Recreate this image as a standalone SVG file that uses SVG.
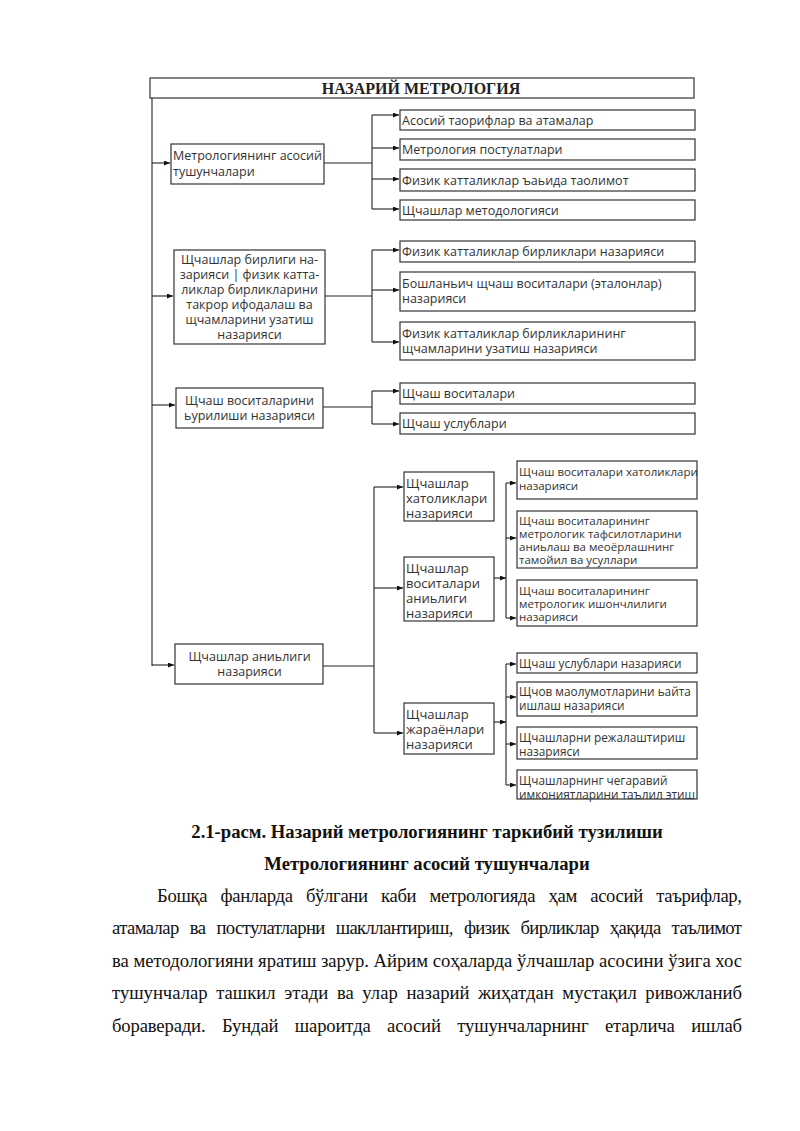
<svg xmlns="http://www.w3.org/2000/svg" width="800" height="1131" viewBox="0 0 800 1131">
<style>
.bx{fill:#fff;stroke:#333;stroke-width:1.2}
.cn{fill:none;stroke:#222;stroke-width:1.1}
.t{font-family:"Open Sans","DejaVu Sans",sans-serif;font-size:12.5px;fill:#333}
.tm{font-family:"Open Sans","DejaVu Sans",sans-serif;font-size:13px;fill:#333}
.ts{font-family:"Open Sans","DejaVu Sans",sans-serif;font-size:11.5px;fill:#333}
.t12{font-family:"Open Sans","DejaVu Sans",sans-serif;font-size:11.8px;fill:#333}
.c{text-anchor:middle}
.ttl{font-family:"Liberation Serif","Times New Roman",serif;font-weight:bold;font-size:16px;fill:#222}
.cap{font-family:"Liberation Serif","Times New Roman",serif;font-weight:bold;font-size:18.67px;fill:#111;text-anchor:middle}
.p{font-family:"Liberation Serif","Times New Roman",serif;font-size:18.67px;fill:#111}
</style>
<defs>
<marker id="ar" markerUnits="userSpaceOnUse" markerWidth="7" markerHeight="6" refX="6" refY="2.5" orient="auto">
<path d="M0,0 L6,2.5 L0,5 z" fill="#111"/>
</marker>
</defs>
<rect width="800" height="1131" fill="#fff"/>

<g id="title">
<rect class="bx" x="150" y="78" width="544" height="20"/>
<text class="ttl c" x="421" y="93.5">НАЗАРИЙ МЕТРОЛОГИЯ</text>
</g>

<g id="connectors">
<path class="cn" d="M152,98 V666"/>
<path class="cn" d="M152,163 H170" marker-end="url(#ar)"/>
<path class="cn" d="M152,296 H173" marker-end="url(#ar)"/>
<path class="cn" d="M152,405 H175" marker-end="url(#ar)"/>
<path class="cn" d="M152,665 H174" marker-end="url(#ar)"/>

<path class="cn" d="M324,163 H372 M372,115 V209"/>
<path class="cn" d="M372,115 H399" marker-end="url(#ar)"/>
<path class="cn" d="M372,148 H399" marker-end="url(#ar)"/>
<path class="cn" d="M372,179 H399" marker-end="url(#ar)"/>
<path class="cn" d="M372,209 H399" marker-end="url(#ar)"/>

<path class="cn" d="M325,296 H372 M372,250 V342"/>
<path class="cn" d="M372,250 H399" marker-end="url(#ar)"/>
<path class="cn" d="M372,290 H399" marker-end="url(#ar)"/>
<path class="cn" d="M372,342 H399" marker-end="url(#ar)"/>

<path class="cn" d="M323,407 H372 M372,391 V424"/>
<path class="cn" d="M372,391 H399" marker-end="url(#ar)"/>
<path class="cn" d="M372,424 H399" marker-end="url(#ar)"/>

<path class="cn" d="M323,666 H374 M374,487 V733"/>
<path class="cn" d="M374,487 H403" marker-end="url(#ar)"/>
<path class="cn" d="M374,588 H403" marker-end="url(#ar)"/>
<path class="cn" d="M374,733 H403" marker-end="url(#ar)"/>

<path class="cn" d="M494,578 H506" marker-end="url(#ar)"/>
<path class="cn" d="M506,483 V618"/>
<path class="cn" d="M506,483 H516" marker-end="url(#ar)"/>
<path class="cn" d="M506,538 H516" marker-end="url(#ar)"/>
<path class="cn" d="M506,618 H516" marker-end="url(#ar)"/>

<path class="cn" d="M494,722 H506" marker-end="url(#ar)"/>
<path class="cn" d="M506,664 V785"/>
<path class="cn" d="M506,664 H516" marker-end="url(#ar)"/>
<path class="cn" d="M506,697 H516" marker-end="url(#ar)"/>
<path class="cn" d="M506,744 H516" marker-end="url(#ar)"/>
<path class="cn" d="M506,785 H516" marker-end="url(#ar)"/>
</g>

<g id="n1">
<rect class="bx" x="171" y="144" width="153" height="40"/>
<text class="t" x="173" y="159.5">Метрологиянинг асосий</text>
<text class="t" x="173" y="175.5">тушунчалари</text>
</g>
<g id="n1a"><rect class="bx" x="400" y="110" width="295" height="20"/><text class="t" x="402" y="124.5">Асосий таорифлар ва атамалар</text></g>
<g id="n1b"><rect class="bx" x="400" y="139" width="295" height="21"/><text class="t" x="402" y="154">Метрология постулатлари</text></g>
<g id="n1c"><rect class="bx" x="400" y="169" width="295" height="22"/><text class="t" x="402" y="184.5">Физик катталиклар ъаьида таолимот</text></g>
<g id="n1d"><rect class="bx" x="400" y="200" width="295" height="20"/><text class="t" x="402" y="214.5">Щчашлар методологияси</text></g>

<g id="n2">
<rect class="bx" x="174" y="250" width="151" height="94"/>
<text class="t c" x="249.5" y="263.5">Щчашлар бирлиги на-</text>
<text class="t c" x="249.5" y="278.5">зарияси | физик катта-</text>
<text class="t c" x="249.5" y="293.5">ликлар бирликларини</text>
<text class="t c" x="249.5" y="308.5">такрор ифодалаш ва</text>
<text class="t c" x="249.5" y="323.5">щчамларини узатиш</text>
<text class="t c" x="249.5" y="338.5">назарияси</text>
</g>
<g id="n2a"><rect class="bx" x="400" y="241" width="295" height="21"/><text class="t" x="402" y="256">Физик катталиклар бирликлари назарияси</text></g>
<g id="n2b"><rect class="bx" x="400" y="272" width="295" height="39"/><text class="t" x="402" y="288">Бошланьич щчаш воситалари (эталонлар)</text><text class="t" x="402" y="303">назарияси</text></g>
<g id="n2c"><rect class="bx" x="400" y="322" width="295" height="38"/><text class="t" x="402" y="338">Физик катталиклар бирликларининг</text><text class="t" x="402" y="353">щчамларини узатиш назарияси</text></g>

<g id="n3">
<rect class="bx" x="176" y="388" width="147" height="40"/>
<text class="t c" x="249.5" y="404.5">Щчаш воситаларини</text>
<text class="t c" x="249.5" y="419.5">ьурилиши назарияси</text>
</g>
<g id="n3a"><rect class="bx" x="400" y="383" width="295" height="21"/><text class="t" x="402" y="398">Щчаш воситалари</text></g>
<g id="n3b"><rect class="bx" x="400" y="413" width="295" height="21"/><text class="t" x="402" y="428">Щчаш услублари</text></g>

<g id="n4">
<rect class="bx" x="175" y="644" width="148" height="40"/>
<text class="t c" x="249.5" y="660.5">Щчашлар аниьлиги</text>
<text class="t c" x="249.5" y="675.5">назарияси</text>
</g>

<g id="n4a">
<rect class="bx" x="404" y="472" width="90" height="49"/>
<text class="tm" x="406" y="488">Щчашлар</text>
<text class="tm" x="406" y="503">хатоликлари</text>
<text class="tm" x="406" y="518">назарияси</text>
</g>
<g id="n4b">
<rect class="bx" x="404" y="557" width="90" height="64"/>
<text class="tm" x="406" y="573">Щчашлар</text>
<text class="tm" x="406" y="588">воситалари</text>
<text class="tm" x="406" y="603">аниьлиги</text>
<text class="tm" x="406" y="618">назарияси</text>
</g>
<g id="n4c">
<rect class="bx" x="404" y="703" width="90" height="51"/>
<text class="tm" x="406" y="719">Щчашлар</text>
<text class="tm" x="406" y="734">жараёнлари</text>
<text class="tm" x="406" y="749">назарияси</text>
</g>

<g id="r1"><rect class="bx" x="517" y="461" width="180" height="38"/>
<text class="ts" x="519" y="476">Щчаш воситалари хатоликлари</text>
<text class="ts" x="519" y="490">назарияси</text></g>
<g id="r2"><rect class="bx" x="517" y="511" width="180" height="57"/>
<text class="ts" x="519" y="525">Щчаш воситаларининг</text>
<text class="ts" x="519" y="538">метрологик тафсилотларини</text>
<text class="ts" x="519" y="551">аниьлаш ва меоёрлашнинг</text>
<text class="ts" x="519" y="564">тамойил ва усуллари</text></g>
<g id="r3"><rect class="bx" x="517" y="580" width="180" height="46"/>
<text class="ts" x="519" y="595">Щчаш воситаларининг</text>
<text class="ts" x="519" y="608">метрологик ишончлилиги</text>
<text class="ts" x="519" y="621">назарияси</text></g>

<g id="s1"><rect class="bx" x="517" y="653" width="180" height="20"/>
<text class="t12" x="519" y="667.5">Щчаш услублари назарияси</text></g>
<g id="s2"><rect class="bx" x="517" y="682" width="180" height="34"/>
<text class="t12" x="519" y="696">Щчов маолумотларини ьайта</text>
<text class="t12" x="519" y="710">ишлаш назарияси</text></g>
<g id="s3"><rect class="bx" x="517" y="727" width="180" height="32"/>
<text class="t12" x="519" y="742">Щчашларни режалаштириш</text>
<text class="t12" x="519" y="756">назарияси</text></g>
<g id="s4"><rect class="bx" x="517" y="770" width="180" height="29"/>
<text class="t12" x="519" y="785">Щчашларнинг чегаравий</text>
<text class="t12" x="519" y="799">имкониятларини таълил этиш</text></g>

<g id="caption">
<text class="cap" x="427" y="838">2.1-расм. Назарий метрологиянинг таркибий тузилиши</text>
<text class="cap" x="427" y="870">Метрологиянинг асосий тушунчалари</text>
</g>

<g id="paragraph">
<text class="p" x="157" y="902" word-spacing="9" textLength="585" lengthAdjust="spacing">Бошқа фанларда бўлгани каби метрологияда ҳам асосий таърифлар,</text>
<text class="p" x="112" y="934" word-spacing="7" textLength="630" lengthAdjust="spacing">атамалар ва постулатларни шакллантириш, физик бирликлар ҳақида таълимот</text>
<text class="p" x="112" y="967" textLength="630" lengthAdjust="spacing">ва методологияни яратиш зарур. Айрим соҳаларда ўлчашлар асосини ўзига хос</text>
<text class="p" x="112" y="999" word-spacing="4" textLength="630" lengthAdjust="spacing">тушунчалар ташкил этади ва улар назарий жиҳатдан мустақил ривожланиб</text>
<text class="p" x="112" y="1032" word-spacing="12" textLength="630" lengthAdjust="spacing">бораверади. Бундай шароитда асосий тушунчаларнинг етарлича ишлаб</text>
</g>
</svg>
